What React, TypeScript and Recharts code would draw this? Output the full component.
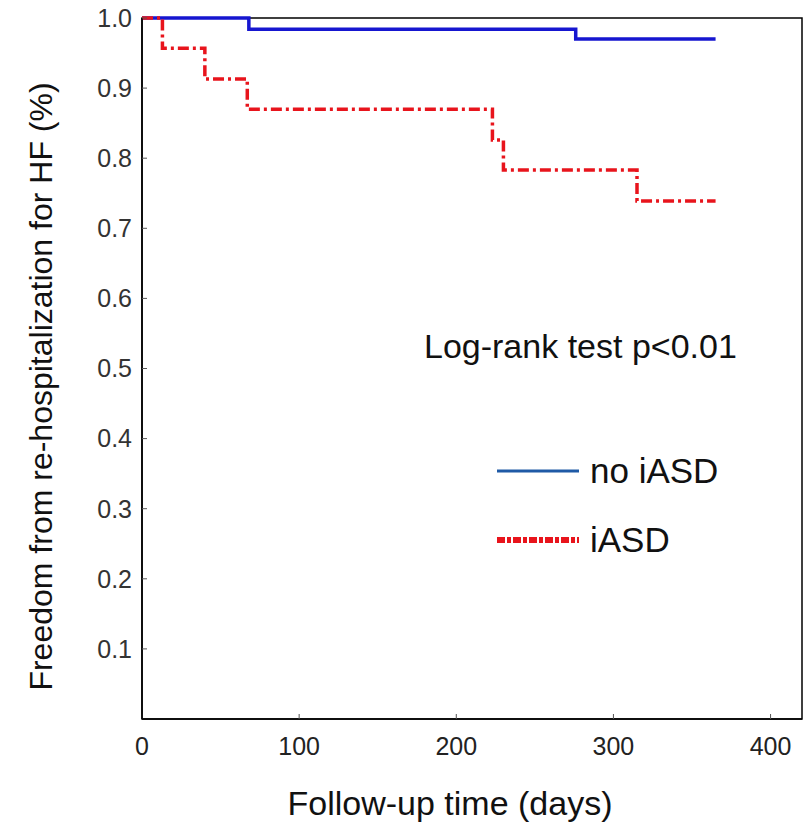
import { LineChart, Line, XAxis, YAxis, ReferenceArea } from "recharts";

const noIasdDays = [0, 68, 276, 365];
const noIasdSurv = [1.0, 0.984, 0.97, 0.97];

const iasdDays = [0, 13, 40, 67, 223, 230, 315, 365];
const iasdSurv = [1.0, 0.957, 0.913, 0.87, 0.826, 0.783, 0.739, 0.739];

const xTicks = [0, 100, 200, 300, 400];
const yTicks = [0.1, 0.2, 0.3, 0.4, 0.5, 0.6, 0.7, 0.8, 0.9, 1.0];

const noIasdData = noIasdDays.map((d, i) => ({ day: d, surv: noIasdSurv[i] }));
const iasdData = iasdDays.map((d, i) => ({ day: d, surv: iasdSurv[i] }));

const FONT = "'Liberation Sans', Arial, sans-serif";

// legend drawn by hand, sits inside the plot like the original figure
function KmLegend() {
  const row = { position: "absolute" as const, left: 0, display: "flex", alignItems: "center", height: 40 };
  return (
    <div style={{ position: "absolute", left: 497, top: 451, width: 270, height: 110, fontFamily: FONT, fontSize: 35, color: "#111" }}>
      <div style={{ ...row, top: 0 }}>
        <svg width={82} height={10} style={{ marginRight: 11 }}>
          <line x1={0} y1={5} x2={82} y2={5} stroke="#1f5aa6" strokeWidth={3} />
        </svg>
        <span>no iASD</span>
      </div>
      <div style={{ ...row, top: 69 }}>
        <svg width={82} height={10} style={{ marginRight: 11 }}>
          <line x1={0} y1={5} x2={82} y2={5} stroke="#e8141c" strokeWidth={6} strokeDasharray="8 2 4 2" />
        </svg>
        <span>iASD</span>
      </div>
    </div>
  );
}

export default function App() {
  return (
    <div style={{ position: "absolute", left: 0, top: 0, width: 807, height: 824, background: "#fff" }}>
      <LineChart width={807} height={824} margin={{ top: 18, right: 5, left: 0, bottom: 0 }}>
        <XAxis
          type="number"
          dataKey="day"
          domain={[0, 420]}
          ticks={xTicks}
          allowDataOverflow
          height={105}
          tick={{ fill: "#222", fontSize: 25, fontFamily: FONT }}
          tickSize={-5}
          tickMargin={23}
          axisLine={{ stroke: "#000", strokeWidth: 1.5 }}
          tickLine={{ stroke: "#555" }}
          label={{
            value: "Follow-up time (days)",
            position: "center",
            dx: -22,
            dy: 31,
            style: { fontSize: 34, fontFamily: FONT, fill: "#111" },
          }}
        />
        <YAxis
          type="number"
          domain={[0, 1]}
          ticks={yTicks}
          width={142}
          tickFormatter={(v: number) => v.toFixed(1)}
          tick={{ fill: "#333", fontSize: 25, fontFamily: FONT }}
          tickSize={-5}
          tickMargin={15}
          axisLine={{ stroke: "#000", strokeWidth: 1.5 }}
          tickLine={{ stroke: "#555" }}
          label={{
            value: "Freedom from re-hospitalization for HF (%)",
            angle: -90,
            position: "center",
            dx: -30,
            dy: 18,
            style: { fontSize: 32, fontFamily: FONT, fill: "#111", textAnchor: "middle" },
          }}
        />
        <ReferenceArea x1={0} x2={420} y1={0} y2={1} fill="none" stroke="#000" strokeWidth={1.5} />
        <Line
          data={noIasdData}
          dataKey="surv"
          type="stepAfter"
          stroke="#1616d0"
          strokeWidth={3.5}
          dot={false}
          isAnimationActive={false}
        />
        <Line
          data={iasdData}
          dataKey="surv"
          type="stepAfter"
          stroke="#e8141c"
          strokeWidth={3.5}
          strokeDasharray="11 4 3 4"
          dot={false}
          isAnimationActive={false}
        />
      </LineChart>
      <div
        style={{
          position: "absolute",
          left: 424,
          top: 327,
          fontFamily: FONT,
          fontSize: 34,
          color: "#111",
          whiteSpace: "nowrap",
        }}
      >
        Log-rank test p&lt;0.01
      </div>
      <KmLegend />
    </div>
  );
}
